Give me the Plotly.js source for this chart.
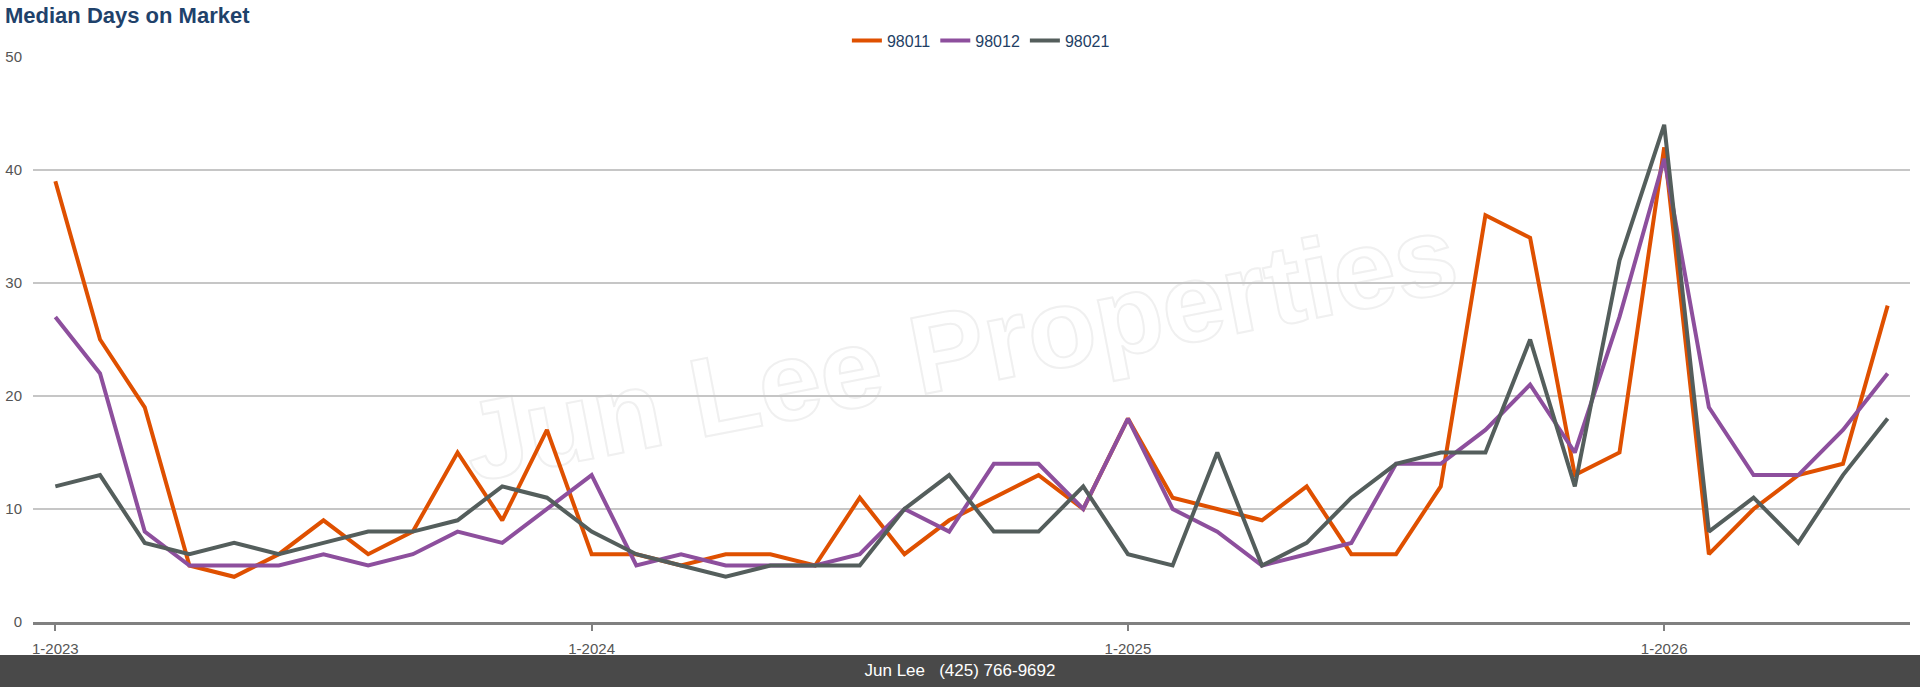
<!DOCTYPE html>
<html>
<head>
<meta charset="utf-8">
<script src="https://cdn.plot.ly/plotly-3.0.1.min.js"></script>
<style>
  body { margin: 0; background: #fff; font-family: "Liberation Sans", Arial, sans-serif; }
  #wrap { position: relative; width: 1920px; height: 687px; overflow: hidden; }
  #mark {
    position: absolute; left: 960px; top: 348px;
    transform: translate(-50%, -50%) rotate(-11deg);
    white-space: nowrap; font-size: 112px; font-weight: bold;
    color: transparent; -webkit-text-stroke: 2px #f0f0f0;
  }
  #chart { position: absolute; left: 0; top: 0; width: 1920px; height: 655px; }
  #foot {
    position: absolute; left: 0; top: 655px; width: 1920px; height: 32px;
    background: #494949; color: #fff; font-size: 17px; line-height: 32px; text-align: center;
  }
</style>
</head>
<body>
<div id="wrap">
  <div id="mark">Jun Lee Properties</div>
  <div id="chart"></div>
  <div id="foot">Jun Lee&nbsp;&nbsp;&nbsp;(425) 766-9692</div>
</div>
<script>
var months = [
  '1-2023', '2-2023', '3-2023', '4-2023', '5-2023', '6-2023', '7-2023', '8-2023', '9-2023', '10-2023', '11-2023', '12-2023',
  '1-2024', '2-2024', '3-2024', '4-2024', '5-2024', '6-2024', '7-2024', '8-2024', '9-2024', '10-2024', '11-2024', '12-2024',
  '1-2025', '2-2025', '3-2025', '4-2025', '5-2025', '6-2025', '7-2025', '8-2025', '9-2025', '10-2025', '11-2025', '12-2025',
  '1-2026', '2-2026', '3-2026', '4-2026', '5-2026', '6-2026'
];

var zip98011 = [39, 25, 19, 5, 4, 6, 9, 6, 8, 15, 9, 17, 6, 6, 5, 6, 6, 5, 11, 6, 9, 11, 13, 10,
                18, 11, 10, 9, 12, 6, 6, 12, 36, 34, 13, 15, 42, 6, 10, 13, 14, 28];
var zip98012 = [27, 22, 8, 5, 5, 5, 6, 5, 6, 8, 7, 10, 13, 5, 6, 5, 5, 5, 6, 10, 8, 14, 14, 10,
                18, 10, 8, 5, 6, 7, 14, 14, 17, 21, 15, 27, 41, 19, 13, 13, 17, 22];
var zip98021 = [12, 13, 7, 6, 7, 6, 7, 8, 8, 9, 12, 11, 8, 6, 5, 4, 5, 5, 5, 10, 13, 8, 8, 12,
                6, 5, 15, 5, 7, 11, 14, 15, 15, 25, 12, 32, 44, 8, 11, 7, 13, 18];

var yearTicks = ['1-2023', '1-2024', '1-2025', '1-2026'];
var yTicks = [0, 10, 20, 30, 40, 50];

function line(name, y, color) {
  return {
    x: months, y: y, name: name,
    type: 'scatter', mode: 'lines',
    line: { color: color, width: 4 },
  };
}

var data = [
  line('98011', zip98011, '#df5000'),
  line('98012', zip98012, '#8d4f9d'),
  line('98021', zip98021, '#545e5c'),
];

var layout = {
  width: 1920,
  height: 655,
  margin: { l: 33, r: 10, t: 57, b: 33 },
  paper_bgcolor: 'rgba(0,0,0,0)',
  plot_bgcolor: 'rgba(0,0,0,0)',
  font: { family: '"Liberation Sans", Arial, sans-serif', color: '#555' },
  title: {
    text: 'Median Days on Market',
    font: { size: 22, weight: 'bold', color: '#1f426b' },
    xref: 'container', x: 0.0026, xanchor: 'left',
    yref: 'container', y: 1 - 15 / 655, yanchor: 'middle',
  },
  showlegend: true,
  legend: {
    orientation: 'h',
    x: 0.505, xanchor: 'center',
    y: 1.029, yanchor: 'middle',
    font: { size: 16, color: '#1f3f66' },
  },
  xaxis: {
    type: 'category',
    range: [-0.5, 41.5],
    tickvals: yearTicks,
    ticktext: yearTicks,
    showgrid: false,
    showline: true, linecolor: '#808080', linewidth: 2.5,
    ticks: 'outside', ticklen: 6, tickwidth: 2, tickcolor: '#808080',
    tickfont: { size: 15, color: '#555' },
    ticklabelstandoff: 5,
  },
  yaxis: {
    range: [0, 50],
    tickvals: yTicks,
    showgrid: true, gridcolor: '#c6c6c6', gridwidth: 1.5,
    zeroline: false,
    showline: false,
    ticks: '',
    tickfont: { size: 15, color: '#555' },
    ticklabelstandoff: 10,
  },
};

Plotly.newPlot('chart', data, layout, { displayModeBar: false, staticPlot: true });
</script>
</body>
</html>
